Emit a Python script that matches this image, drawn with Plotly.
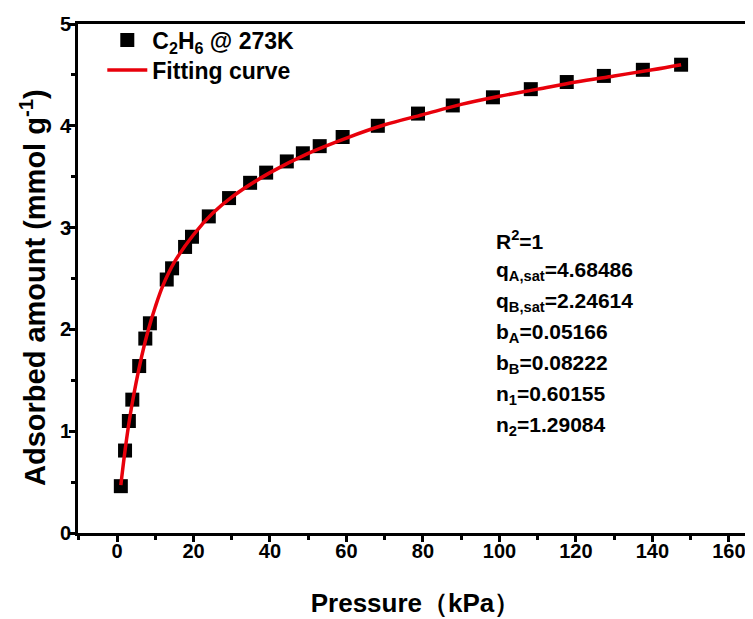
import plotly.graph_objects as go

pressure = [1, 2.1, 3.1, 4, 5.8, 7.4, 8.6, 13, 14.4, 17.8, 19.6, 24, 29.3, 34.8, 39,
            44.4, 48.6, 53, 59, 68.2, 78.7, 87.8, 98.3, 108.2, 117.6, 127.3, 137.5, 147.5]
uptake = [0.46, 0.81, 1.1, 1.31, 1.64, 1.91, 2.06, 2.49, 2.6, 2.81, 2.91, 3.11, 3.29, 3.44, 3.54,
          3.65, 3.73, 3.8, 3.89, 4.0, 4.12, 4.2, 4.28, 4.36, 4.43, 4.49, 4.55, 4.6]

# Fitting curve
fit_p = [1, 2, 3, 4, 6, 8, 10, 12, 15, 20, 25, 30, 40, 50, 60, 70, 80, 90, 100, 110, 120, 130, 140, 147.5]
fit_q = [0.47, 0.78, 1.05, 1.28, 1.66, 1.97, 2.22, 2.43, 2.66, 2.93, 3.14, 3.30, 3.54, 3.73, 3.88,
         4.01, 4.11, 4.21, 4.29, 4.36, 4.43, 4.49, 4.55, 4.60]

x_ticks = [0, 20, 40, 60, 80, 100, 120, 140, 160]
y_ticks = [0, 1, 2, 3, 4, 5]

param_labels = ["R<sup>2</sup>=1", "q<sub>A,sat</sub>=4.68486", "q<sub>B,sat</sub>=2.24614",
                "b<sub>A</sub>=0.05166", "b<sub>B</sub>=0.08222", "n<sub>1</sub>=0.60155",
                "n<sub>2</sub>=1.29084"]

FONT = "Liberation Sans, Arial, sans-serif"

# page has an 8px body margin; figure sized to fit the window
OFF = 8
W, H = 745, 611
L, T, B, R = 70, 16, 86, 0
pw, ph = W - L - R, H - T - B


def px(xp):
    return (xp - OFF - L) / pw


def py(yp):
    return (H - B - (yp - OFF)) / ph


fig = go.Figure()
fig.add_trace(go.Scatter(x=pressure, y=uptake, mode="markers",
                         name="C<sub>2</sub>H<sub>6</sub> @ 273K", legend="legend",
                         marker=dict(symbol="square", size=14, color="black")))
fig.add_trace(go.Scatter(x=fit_p, y=fit_q, mode="lines", name="Fitting curve", legend="legend2",
                         line=dict(color="#e8000b", width=3.5, shape="spline")))

for i, txt in enumerate(param_labels):
    fig.add_annotation(x=px(494), y=py(240 + i * 31), xref="paper", yref="paper",
                       text=f"<b>{txt}</b>", showarrow=False, xanchor="left", yanchor="middle",
                       font=dict(family=FONT, size=21, color="black"))

fig.add_annotation(x=px(33), y=py(288), xref="paper", yref="paper", textangle=-90,
                   text="<b>Adsorbed amount (mmol g<sup>-1</sup>)</b>", showarrow=False,
                   xanchor="center", yanchor="middle",
                   font=dict(family=FONT, size=29, color="black"))

leg_common = dict(xanchor="left", yanchor="middle", bgcolor="rgba(0,0,0,0)",
                  font=dict(family=FONT, size=23, color="black", weight="bold"), itemwidth=40)

fig.update_layout(
    width=W, height=H,
    margin=dict(l=L, r=R, t=T, b=B, autoexpand=False),
    paper_bgcolor="white", plot_bgcolor="white",
    showlegend=True,
    legend=dict(x=0.036, y=py(40), **leg_common),
    legend2=dict(x=0.036, y=py(70), **leg_common),
    xaxis=dict(range=[-10.2, 166.3], tickvals=x_ticks, showgrid=False, zeroline=False,
               automargin=False,
               showline=True, linewidth=3, linecolor="black", mirror=True,
               ticks="outside", ticklen=6, tickwidth=3, tickcolor="black",
               ticklabelstandoff=-8,
               minor=dict(dtick=10, tick0=0, ticks="outside", ticklen=4, tickwidth=3, tickcolor="black"),
               tickfont=dict(family=FONT, size=20, color="black", weight="bold"),
               title=dict(text="Pressure（kPa）", standoff=33,
                          font=dict(family=FONT, size=26, color="black", weight="bold"))),
    yaxis=dict(range=[0, 5], tickvals=y_ticks, showgrid=False, zeroline=False,
               automargin=False,
               showline=True, linewidth=3, linecolor="black", mirror=False,
               ticks="outside", ticklen=6, tickwidth=3, tickcolor="black",
               ticklabelstandoff=-6,
               minor=dict(dtick=0.5, tick0=0, ticks="outside", ticklen=4, tickwidth=3, tickcolor="black"),
               tickfont=dict(family=FONT, size=20, color="black", weight="bold")),
)

fig.write_html("out.html")
